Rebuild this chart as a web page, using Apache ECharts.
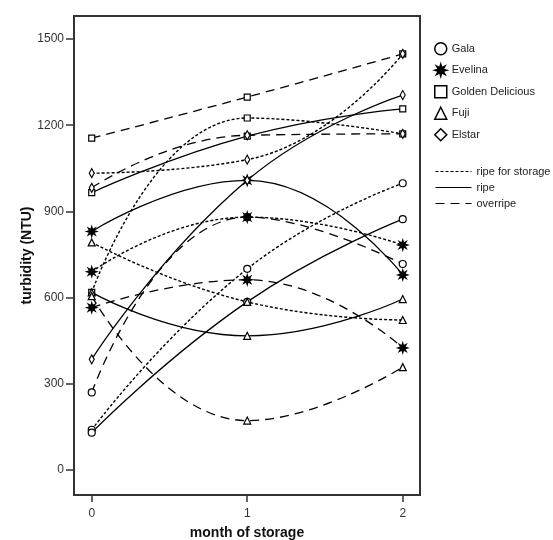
<!DOCTYPE html>
<html><head><meta charset="utf-8">
<script src="https://cdn.jsdelivr.net/npm/echarts@6/dist/echarts.min.js"></script>
<style>html,body{margin:0;padding:0;background:#fff}#c{width:553px;height:540px}</style>
</head><body><div id="c"></div>
<script>
const months = [0, 1, 2];
const yTicks = [0, 300, 600, 900, 1200, 1500];
const varieties = ['Gala', 'Evelina', 'Golden Delicious', 'Fuji', 'Elstar'];
const stages = ['ripe for storage', 'ripe', 'overripe'];

const galaStorage = [140, 700, 998];
const galaRipe = [130, 585, 873];
const galaOver = [270, 880, 717];
const evelinaStorage = [690, 880, 783];
const evelinaRipe = [830, 1008, 679];
const evelinaOver = [565, 662, 425];
const gdStorage = [618, 1225, 1170];
const gdRipe = [965, 1162, 1257];
const gdOver = [1155, 1298, 1448];
const fujiStorage = [792, 585, 522];
const fujiRipe = [618, 467, 595];
const fujiOver = [605, 172, 358];
const elstarStorage = [1033, 1080, 1448];
const elstarRipe = [385, 1008, 1305];
const elstarOver = [982, 1165, 1170];

function starPath(n, ro, ri) {
  let d = '';
  for (let i = 0; i < 2 * n; i++) {
    const a = i * Math.PI / n - Math.PI / 2;
    const r = i % 2 ? ri : ro;
    d += (i ? 'L' : 'M') + (10 + r * Math.cos(a)).toFixed(2) + ' ' + (10 + r * Math.sin(a)).toFixed(2);
  }
  return 'path://' + d + 'Z';
}
const STAR = starPath(8, 10, 4.5);
const symbols = {
  'Gala': {symbol: 'circle', size: 7, fill: '#fff'},
  'Evelina': {symbol: STAR, size: 10, fill: '#000'},
  'Golden Delicious': {symbol: 'rect', size: 6, fill: '#fff'},
  'Fuji': {symbol: 'triangle', size: 7, fill: '#fff'},
  'Elstar': {symbol: 'diamond', size: [5, 9], fill: '#fff'}
};
const dashes = {
  'ripe for storage': [3, 2],
  'ripe': 'solid',
  'overripe': [9, 6]
};
const widths = {'ripe for storage': 1.4, 'ripe': 1.3, 'overripe': 1.3};

const table = [
  ['Gala', 'ripe for storage', galaStorage], ['Gala', 'ripe', galaRipe], ['Gala', 'overripe', galaOver],
  ['Evelina', 'ripe for storage', evelinaStorage], ['Evelina', 'ripe', evelinaRipe], ['Evelina', 'overripe', evelinaOver],
  ['Golden Delicious', 'ripe for storage', gdStorage], ['Golden Delicious', 'ripe', gdRipe], ['Golden Delicious', 'overripe', gdOver],
  ['Fuji', 'ripe for storage', fujiStorage], ['Fuji', 'ripe', fujiRipe], ['Fuji', 'overripe', fujiOver],
  ['Elstar', 'ripe for storage', elstarStorage], ['Elstar', 'ripe', elstarRipe], ['Elstar', 'overripe', elstarOver]
];

const series = table.map(([v, s, vals]) => ({
  type: 'line',
  name: v + ' ' + s,
  smooth: true,
  data: months.map((m, i) => [m, vals[i]]),
  symbol: symbols[v].symbol,
  symbolSize: symbols[v].size,
  showAllSymbol: true,
  lineStyle: {color: '#000', width: widths[s], type: dashes[s]},
  itemStyle: {color: symbols[v].fill, borderColor: '#000', borderWidth: 1.2},
  z: 2
}));
varieties.forEach(v => series.push({type: 'line', name: v, data: [], symbol: symbols[v].symbol,
  itemStyle: {color: symbols[v].fill, borderColor: '#000', borderWidth: 1.5}, lineStyle: {color: '#000'}}));
stages.forEach(s => series.push({type: 'line', name: s, data: [], symbol: 'none',
  lineStyle: {color: '#000', width: 1, type: dashes[s]}, itemStyle: {color: 'rgba(0,0,0,0)', borderWidth: 0}}));

const font = 'Liberation Sans, Arial, sans-serif';
const chart = echarts.init(document.getElementById('c'), null, {renderer: 'canvas'});
chart.setOption({
  animation: false,
  backgroundColor: '#fff',
  grid: {left: 74, top: 16, right: 133, bottom: 45, show: true, borderColor: '#333', borderWidth: 2,
    backgroundColor: 'transparent', outerBoundsMode: 'none', containLabel: false},
  xAxis: {
    type: 'value', min: -0.114, max: 2.111,
    name: 'month of storage', nameLocation: 'middle', nameGap: 31, nameMoveOverlap: false,
    nameTextStyle: {fontFamily: font, fontSize: 14, fontWeight: 'bold', color: '#111'},
    axisLine: {show: true, onZero: false, lineStyle: {color: '#333', width: 2}},
    axisTick: {show: true, length: 7, lineStyle: {color: '#333', width: 1.5}, customValues: months},
    axisLabel: {customValues: months, fontFamily: font, fontSize: 12, color: '#333', margin: 13},
    splitLine: {show: false}
  },
  yAxis: {
    type: 'value', min: -87, max: 1580,
    name: 'turbidity (NTU)', nameLocation: 'middle', nameGap: 40, nameRotate: 90, nameMoveOverlap: false,
    nameTextStyle: {fontFamily: font, fontSize: 14, fontWeight: 'bold', color: '#111'},
    axisLine: {show: true, onZero: false, lineStyle: {color: '#333', width: 2}},
    axisTick: {show: true, length: 8, lineStyle: {color: '#333', width: 1.5}, customValues: yTicks},
    axisLabel: {customValues: yTicks, formatter: v => String(v), fontFamily: font, fontSize: 12, color: '#333', margin: 10},
    splitLine: {show: false}
  },
  legend: [
    {
      orient: 'vertical', left: 429, top: 37, itemWidth: 12, itemHeight: 12, itemGap: 8,
      selectedMode: false,
      textStyle: {fontFamily: font, fontSize: 11, color: '#222'},
      data: varieties.map(v => ({name: v, icon: symbols[v].symbol,
        itemStyle: {color: v === 'Evelina' ? '#000' : '#fff', borderColor: '#000', borderWidth: 1.5}}))
    },
    {
      orient: 'vertical', left: 430, top: 161, itemWidth: 36, itemHeight: 10, itemGap: 5,
      selectedMode: false,
      textStyle: {fontFamily: font, fontSize: 11, color: '#222'},
      data: stages.map(s => ({name: s, lineStyle: {color: '#000', width: 1, type: dashes[s]},
        itemStyle: {color: 'rgba(0,0,0,0)', borderColor: 'rgba(0,0,0,0)', borderWidth: 0}}))
    }
  ],
  series: series
});
</script></body></html>
